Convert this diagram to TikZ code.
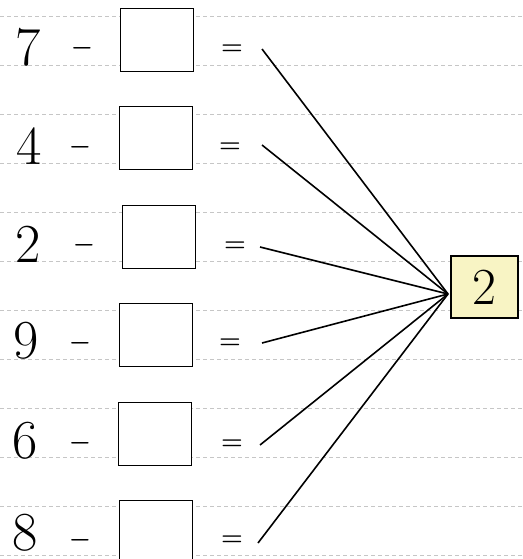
\documentclass[tikz,border=0pt]{standalone}
\usepackage{tikz}
\usepackage{xcolor}
\definecolor{ansyellow}{RGB}{248,244,196}

\begin{document}
\begin{tikzpicture}[
    x=1pt, y=-1pt,
    digit/.style={inner sep=0pt, font=\fontsize{55}{55}\selectfont},
    op/.style={inner sep=0pt, font=\fontsize{30}{30}\selectfont\boldmath},
    blank/.style={draw, line width=1.3pt, fill=white, minimum width=73pt, minimum height=63pt, inner sep=0pt, outer sep=0pt},
    ans/.style={draw, line width=1.3pt, fill=ansyellow, minimum width=67pt, minimum height=62pt, inner sep=0pt, outer sep=0pt, font=\fontsize{52}{52}\selectfont},
    guide/.style={gray!45, line width=0.8pt, dash pattern=on 4pt off 3pt},
    link/.style={line width=1.6pt}
  ]
    \useasboundingbox (0,0) rectangle (522,559);
    \fill[white] (0,0) rectangle (522,559);

    % ruled lines
    \draw[guide] (0,16) -- (522,16);
    \draw[guide] (0,65) -- (522,65);
    \draw[guide] (0,114) -- (522,114);
    \draw[guide] (0,163) -- (522,163);
    \draw[guide] (0,212) -- (522,212);
    \draw[guide] (0,261) -- (522,261);
    \draw[guide] (0,310) -- (522,310);
    \draw[guide] (0,359) -- (522,359);
    \draw[guide] (0,408) -- (522,408);
    \draw[guide] (0,457) -- (522,457);
    \draw[guide] (0,506) -- (522,506);
    \draw[guide] (0,555) -- (522,555);

    % row 1
    \node[digit] (d1) at (28,47) {7};
    \node[op] (mn1) at (82,48) {$-$};
    \node[blank] (bx1) at (157,40) {};
    \node[op] (eq1) at (232,50) {$=$};
    \coordinate (st1) at (262,49);

    % row 2
    \node[digit] (d2) at (29,146) {4};
    \node[op] (mn2) at (80,147) {$-$};
    \node[blank] (bx2) at (156,138) {};
    \node[op] (eq2) at (230,148) {$=$};
    \coordinate (st2) at (262,145);

    % row 3
    \node[digit] (d3) at (28,244) {2};
    \node[op] (mn3) at (84,245) {$-$};
    \node[blank] (bx3) at (159,237) {};
    \node[op] (eq3) at (235,247) {$=$};
    \coordinate (st3) at (260,247);

    % row 4
    \node[digit] (d4) at (26,341) {9};
    \node[op] (mn4) at (80,343) {$-$};
    \node[blank] (bx4) at (156,335) {};
    \node[op] (eq4) at (230,344) {$=$};
    \coordinate (st4) at (262,343);

    % row 5
    \node[digit] (d5) at (25,441) {6};
    \node[op] (mn5) at (80,443) {$-$};
    \node[blank] (bx5) at (155,434) {};
    \node[op] (eq5) at (232,445) {$=$};
    \coordinate (st5) at (260,445);

    % row 6
    \node[digit] (d6) at (25,533) {8};
    \node[op] (mn6) at (80,540) {$-$};
    \node[blank] (bx6) at (156,532) {};
    \node[op] (eq6) at (232,541) {$=$};
    \coordinate (st6) at (258,543);

    % answer
    \node[ans] (ans) at (484.5,287) {2};
    \coordinate (hub) at ([xshift=-3pt,yshift=-7pt]ans.west);

    % lines
    \draw[link] (st1) -- (hub);
    \draw[link] (st2) -- (hub);
    \draw[link] (st3) -- (hub);
    \draw[link] (st4) -- (hub);
    \draw[link] (st5) -- (hub);
    \draw[link] (st6) -- (hub);
  \end{tikzpicture}
\end{document}
